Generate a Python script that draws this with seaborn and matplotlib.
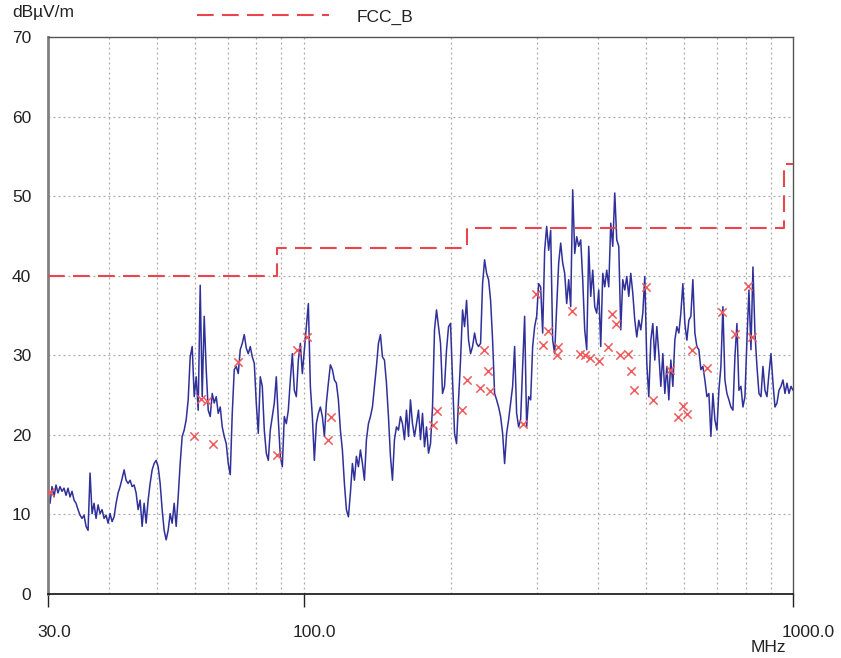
import numpy as np
import matplotlib
matplotlib.use("Agg")
import matplotlib.pyplot as plt
import matplotlib.transforms as mtransforms
from matplotlib.ticker import FixedLocator, NullFormatter
import seaborn as sns

# ---------------- data ----------------
# sweep grid of the receiver (log-spaced sweep points between start and stop)
F_START = 30.0
F_STOP = 1000.0

trace_db = [
    12.2, 11.4, 13.5, 12.2, 13.7, 12.7, 13.5, 12.9, 13.3, 12.4,
    13.3, 12.2, 12.9, 11.8, 11.4, 10.6, 9.9, 9.5, 9.9, 8.5,
    8.0, 15.2, 10.1, 11.4, 9.5, 11.2, 10.1, 10.6, 9.5, 9.9,
    8.9, 10.1, 9.1, 9.7, 11.4, 12.7, 13.5, 14.5, 15.6, 14.3,
    13.9, 14.3, 13.5, 13.7, 12.7, 10.6, 11.8, 8.5, 11.4, 8.9,
    11.8, 13.9, 15.6, 16.4, 16.8, 16.0, 13.9, 10.6, 8.0, 6.8,
    8.0, 10.1, 8.9, 11.4, 8.5, 12.2, 16.4, 19.8, 20.6, 21.9,
    24.4, 29.8, 31.1, 24.8, 27.3, 23.1, 38.8, 24.8, 34.9, 28.2,
    23.1, 22.3, 25.2, 24.0, 24.8, 22.7, 23.5, 21.0, 19.8, 18.9,
    16.4, 15.0, 22.7, 28.2, 28.6, 27.7, 30.7, 31.5, 32.6, 30.9,
    30.2, 31.1, 29.8, 29.0, 24.0, 20.2, 27.3, 26.1, 20.6, 17.7,
    16.8, 20.6, 22.3, 24.0, 27.3, 21.9, 17.3, 16.0, 22.3, 21.4,
    23.1, 26.9, 30.2, 25.6, 24.8, 29.4, 31.5, 27.7, 30.7, 33.6,
    36.5, 26.1, 22.3, 16.8, 21.4, 22.7, 23.5, 22.3, 19.8, 24.0,
    26.5, 28.8, 28.2, 26.9, 26.5, 24.4, 20.6, 18.1, 13.9, 10.6,
    9.7, 12.7, 16.4, 14.3, 17.3, 16.0, 18.1, 16.4, 14.3, 19.4,
    21.4, 22.3, 23.5, 26.1, 28.6, 31.5, 32.6, 29.8, 29.4, 26.5,
    22.3, 17.3, 14.3, 19.4, 21.0, 20.6, 22.3, 21.4, 19.4, 23.1,
    19.8, 24.4, 21.4, 19.8, 21.4, 23.1, 19.4, 22.7, 18.5, 21.0,
    17.7, 18.9, 23.5, 33.2, 35.7, 33.6, 31.5, 25.2, 26.1, 30.7,
    33.6, 34.0, 26.9, 20.2, 18.9, 24.4, 29.4, 35.7, 33.6, 36.9,
    31.9, 30.2, 31.1, 32.8, 31.5, 31.1, 31.5, 39.0, 42.0, 40.3,
    39.5, 36.9, 31.9, 25.2, 24.4, 23.5, 22.3, 20.2, 16.4, 20.2,
    21.9, 24.0, 26.1, 31.1, 22.7, 21.0, 21.9, 28.6, 34.9, 21.0,
    24.8, 24.4, 31.1, 33.6, 34.9, 39.0, 38.6, 32.8, 43.2, 46.2,
    43.2, 45.7, 31.9, 30.2, 36.1, 41.6, 44.1, 41.6, 40.3, 36.5,
    39.5, 36.1, 50.8, 42.8, 44.9, 43.7, 44.5, 39.5, 33.2, 30.7,
    43.7, 37.4, 40.7, 36.1, 35.3, 38.2, 31.1, 40.3, 38.6, 40.7,
    38.6, 46.6, 43.7, 50.4, 44.5, 43.7, 33.2, 39.5, 38.2, 39.9,
    37.4, 40.3, 37.8, 34.4, 32.3, 34.4, 33.2, 35.3, 39.9, 29.0,
    24.8, 31.9, 34.0, 29.4, 33.6, 30.2, 26.1, 30.2, 25.2, 28.6,
    24.4, 29.4, 26.1, 31.9, 33.6, 32.8, 35.3, 39.0, 34.0, 31.9,
    34.4, 34.9, 39.5, 32.8, 31.1, 30.7, 28.2, 28.6, 26.9, 24.8,
    25.2, 19.8, 25.2, 21.9, 20.6, 25.6, 28.6, 36.1, 26.9, 25.2,
    24.4, 23.5, 23.1, 29.8, 34.0, 25.6, 26.1, 23.5, 24.8, 31.9,
    38.2, 30.7, 41.1, 32.8, 28.6, 25.2, 24.8, 28.6, 25.6, 24.8,
    27.7, 30.2, 26.5, 23.5, 24.0, 25.6, 26.1, 26.9, 25.2, 26.5,
    25.2, 26.1, 25.6,
]

# FCC class B limit (step line)
limit_freq = [30.0, 88.0, 216.0, 960.0, 1000.0]
limit_db = [40.0, 43.5, 46.0, 54.0, 54.0]

# quasi-peak markers
marker_freq = [30.3, 59.7, 61.5, 63.3, 65.3, 73.5, 88.3, 96.7, 101.4, 112.2,
               113.5, 184.0, 187.0, 211.0, 216.0, 229.0, 233.0, 238.0, 240.0, 281.0,
               299.0, 309.0, 316.0, 329.0, 331.0, 353.0, 367.0, 376.0, 385.0, 401.0,
               418.0, 426.0, 434.0, 443.0, 461.0, 466.0, 474.0, 500.0, 518.0, 561.0,
               583.0, 597.0, 606.0, 621.0, 666.0, 715.0, 761.0, 808.0, 823.0]
marker_db = [12.8, 19.9, 24.5, 24.3, 18.9, 29.2, 17.5, 30.7, 32.3, 19.3,
             22.2, 21.2, 23.0, 23.1, 26.9, 25.9, 30.7, 28.0, 25.5, 21.4,
             37.7, 31.3, 33.0, 30.0, 31.1, 35.6, 30.2, 30.0, 29.6, 29.3,
             31.1, 35.2, 33.9, 30.0, 30.2, 28.0, 25.6, 38.6, 24.4, 28.2,
             22.3, 23.6, 22.6, 30.7, 28.4, 35.4, 32.7, 38.7, 32.3]

x_ticks = [30, 100, 1000]
x_tick_labels = ["30.0", "100.0", "1000.0"]
x_grid = [40, 50, 60, 70, 80, 90, 100, 200, 300, 400, 500, 600, 700, 800, 900]
y_ticks = [0, 10, 20, 30, 40, 50, 60, 70]

# ---------------- plot ----------------
sns.set_theme(style="white")
plt.rcParams["font.family"] = ["Liberation Sans", "DejaVu Sans"]

FS = 12.5
TXT = "#222222"
W, H = 841, 658
fig = plt.figure(figsize=(W / 100, H / 100), dpi=100)
ax = fig.add_axes([48 / W, 1 - 594 / H, (793 - 48) / W, (594 - 37) / H])

trace_freq = np.geomspace(F_START, F_STOP, len(trace_db))

sns.lineplot(x=limit_freq, y=limit_db, ax=ax, color="#e8454d", linewidth=1.5,
             drawstyle="steps-post", linestyle=(0, (8, 4)), estimator=None,
             sort=False, label="FCC_B", zorder=3)
sns.lineplot(x=trace_freq, y=trace_db, ax=ax, color="#30309a", linewidth=1.1,
             estimator=None, sort=False, zorder=2)
sns.scatterplot(x=marker_freq, y=marker_db, ax=ax, marker="x", s=36,
                color="#f05a5a", linewidth=1.1, zorder=4)

ax.set_xscale("log")
ax.set_xlim(30, 1000)
ax.set_ylim(0, 70)

ax.xaxis.set_major_locator(FixedLocator(x_ticks))
ax.set_xticklabels(x_tick_labels)
ax.xaxis.set_minor_locator(FixedLocator(x_grid))
ax.xaxis.set_minor_formatter(NullFormatter())
ax.set_yticks(y_ticks)
ax.set_yticklabels([str(v) for v in y_ticks])

for v in x_grid:
    ax.axvline(v, color="#a8a8a8", linewidth=0.9, linestyle=(0, (1.5, 2.5)), zorder=1)
for v in y_ticks[1:-1]:
    ax.axhline(v, color="#a8a8a8", linewidth=0.9, linestyle=(0, (1.5, 2.5)), zorder=1)
ax.grid(False)

ax.tick_params(axis="x", which="major", length=9, width=1, color="#222222",
               direction="out", pad=13, labelsize=FS, labelcolor=TXT, bottom=True)
ax.tick_params(axis="x", which="minor", length=0)
ax.tick_params(axis="y", length=0, pad=12, labelsize=FS, labelcolor=TXT)

# x tick labels start slightly left of their tick
offset = mtransforms.ScaledTranslation(-8 / 72, 0, fig.dpi_scale_trans)
for lab in ax.get_xticklabels():
    lab.set_horizontalalignment("left")
    lab.set_transform(lab.get_transform() + offset)

for side in ["top", "right"]:
    ax.spines[side].set_color("#555555")
    ax.spines[side].set_linewidth(1.0)
ax.spines["left"].set_color("#808080")
ax.spines["left"].set_linewidth(2.0)
ax.spines["bottom"].set_color("#111111")
ax.spines["bottom"].set_linewidth(1.2)

ax.set_xlabel("")
ax.set_ylabel("")

fig.text(12 / W, 1 - 13 / H, "dB\u00b5V/m", fontsize=FS, color=TXT,
         ha="left", va="center")
fig.text(768 / W, 1 - 648 / H, "MHz", fontsize=FS, color=TXT,
         ha="center", va="center")

leg = ax.legend(loc="center left", bbox_to_anchor=(197 / W, 1 - 17 / H),
                bbox_transform=fig.transFigure, frameon=False, fontsize=FS,
                handlelength=7.6, handletextpad=1.6, borderaxespad=0,
                borderpad=0)
for t in leg.get_texts():
    t.set_color(TXT)

fig.savefig("out.png", dpi=100)
